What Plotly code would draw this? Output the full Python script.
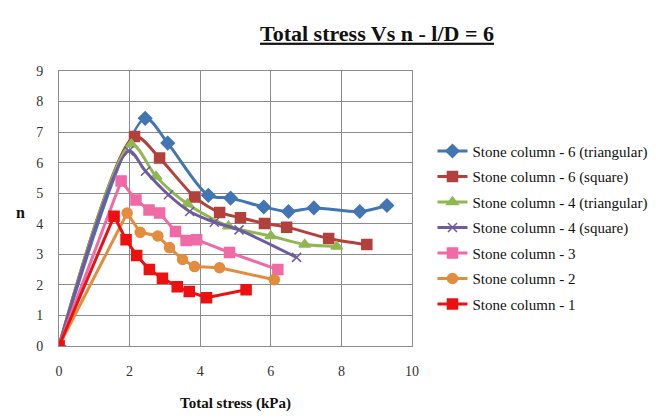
import plotly.graph_objects as go

# Values (x = total stress in kPa, y = n)
sc6_tri_x = [0, 2.44, 3.08, 4.23, 4.86, 5.8, 6.5, 7.22, 8.52, 9.29]
sc6_tri_y = [0, 7.45, 6.64, 4.93, 4.84, 4.55, 4.4, 4.52, 4.4, 4.6]

sc6_sq_x = [0, 2.14, 2.85, 3.84, 4.55, 5.14, 5.82, 6.45, 7.64, 8.72]
sc6_sq_y = [0, 6.86, 6.15, 4.88, 4.37, 4.2, 4.01, 3.89, 3.52, 3.32]

sc4_tri_x = [0, 2.05, 2.75, 3.64, 4.8, 6.0, 6.96, 7.87]
sc4_tri_y = [0, 6.6, 5.55, 4.65, 3.92, 3.6, 3.32, 3.26]

sc4_sq_x = [0, 1.98, 2.45, 3.1, 3.7, 4.4, 5.1, 6.73]
sc4_sq_y = [0, 6.38, 5.72, 4.95, 4.4, 4.05, 3.8, 2.9]

sc3_x = [0, 1.76, 2.18, 2.55, 2.85, 3.3, 3.6, 3.9, 4.83, 6.2]
sc3_y = [0, 5.4, 4.78, 4.45, 4.35, 3.75, 3.45, 3.48, 3.06, 2.5]

sc2_x = [0, 1.93, 2.3, 2.8, 3.13, 3.5, 3.84, 4.55, 6.1]
sc2_y = [0, 4.35, 3.72, 3.6, 3.22, 2.83, 2.6, 2.56, 2.17]

sc1_x = [0, 1.56, 1.9, 2.2, 2.56, 2.93, 3.35, 3.69, 4.18, 5.3]
sc1_y = [0, 4.25, 3.48, 2.96, 2.5, 2.22, 1.94, 1.78, 1.58, 1.84]

SERIF = "'Liberation Serif', 'Times New Roman', Times, serif"

series = [
    ("Stone column - 6 (triangular)", sc6_tri_x, sc6_tri_y, "#4375B3", "diamond", 10, "spline"),
    ("Stone column - 6 (square)", sc6_sq_x, sc6_sq_y, "#B2403C", "square", 10, "spline"),
    ("Stone column - 4 (triangular)", sc4_tri_x, sc4_tri_y, "#90B752", "triangle-up", 10, "spline"),
    ("Stone column - 4 (square)", sc4_sq_x, sc4_sq_y, "#6E5C9F", "x-thin-open", 9, "spline"),
    ("Stone column - 3", sc3_x, sc3_y, "#F06AA6", "square", 10, "linear"),
    ("Stone column - 2", sc2_x, sc2_y, "#E38C3E", "circle", 10, "linear"),
    ("Stone column - 1", sc1_x, sc1_y, "#EE1010", "square", 10, "linear"),
]

fig = go.Figure()
for i, (name, xs, ys, col, sym, size, shape) in enumerate(series):
    fig.add_trace(go.Scatter(
        x=xs, y=ys, name=name, mode="lines+markers", legendgroup=f"g{i}",
        line=dict(color=col, width=3, shape=shape, smoothing=0.8),
        marker=dict(color=col, symbol=sym, size=size, line=dict(color=col, width=1.5)),
    ))

axis_common = dict(
    showgrid=True, gridcolor="#8c8c8c", gridwidth=1,
    showline=True, linecolor="#8c8c8c", mirror=True,
    zeroline=False, ticks="", automargin=False,
    tickfont=dict(family=SERIF, size=14, color="#333333"),
)

# page has an 8px body margin, so the figure is sized/offset to compensate
fig.update_layout(
    width=659, height=411,
    font=dict(family=SERIF),
    paper_bgcolor="white", plot_bgcolor="white",
    margin=dict(l=51, r=255, t=63, b=73),
    title=dict(
        text="<b><u>Total stress Vs n - l/D = 6</u></b>",
        x=369 / 659, xanchor="center", y=1 - 25 / 411, yanchor="middle",
        font=dict(family=SERIF, size=22, color="#111111"),
    ),
    xaxis=dict(range=[0, 10], dtick=2, ticklabelstandoff=12,
               title=dict(text="<b>Total stress (kPa)</b>",
                          font=dict(family=SERIF, size=15, color="#111111"), standoff=19),
               **axis_common),
    yaxis=dict(range=[0, 9], dtick=1, ticklabelstandoff=12, **axis_common),
    legend=dict(
        x=1.058, xanchor="left", y=0.768, yanchor="top",
        font=dict(family=SERIF, size=15, color="#111111"),
        tracegroupgap=3, itemwidth=30, bgcolor="rgba(0,0,0,0)",
    ),
    showlegend=True,
)

# y-axis label sits closer to the ticks than a plotly axis title allows
fig.add_annotation(
    text="<b>n</b>", xref="paper", yref="paper", x=-0.108, y=0.484,
    xanchor="center", showarrow=False,
    font=dict(family=SERIF, size=16, color="#111111"),
)

fig.write_html("out.html")
